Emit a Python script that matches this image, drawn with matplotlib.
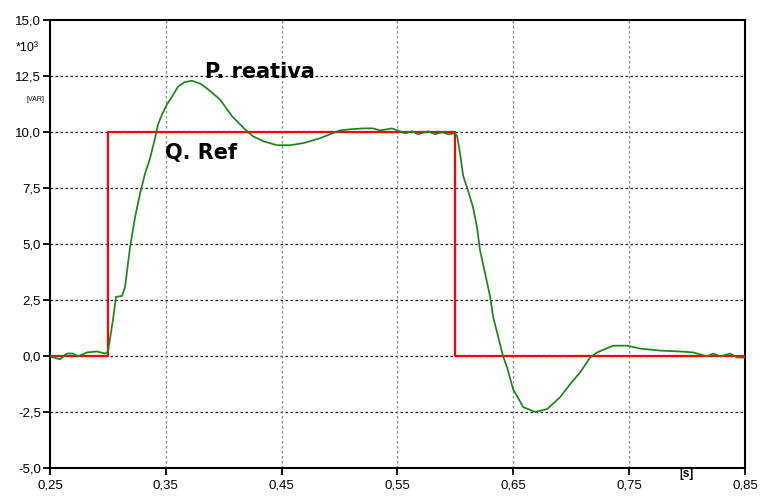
import matplotlib
matplotlib.use("Agg")
import matplotlib.pyplot as plt
from matplotlib.ticker import FuncFormatter

# Reactive power reference (step) [kVAR]
ref_t = [0.25, 0.30, 0.30, 0.60, 0.60, 0.85]
ref_q = [0.0, 0.0, 10.0, 10.0, 0.0, 0.0]

# Measured reactive power [kVAR]
p_t = [0.2500, 0.2586, 0.2647, 0.2699, 0.2742, 0.2820, 0.2906, 0.2975, 0.3001,
       0.3044, 0.3070, 0.3122, 0.3148, 0.3191, 0.3234, 0.3277, 0.3320, 0.3364,
       0.3407, 0.3433, 0.3467, 0.3510, 0.3554, 0.3605, 0.3660, 0.3726, 0.3800,
       0.3856, 0.3968, 0.4072, 0.4201, 0.4253, 0.4339, 0.4460,
       0.4573, 0.4685, 0.4832, 0.4918, 0.5004, 0.5091, 0.5203, 0.5289, 0.5350,
       0.5453, 0.5522, 0.5566, 0.5626, 0.5678, 0.5764, 0.5825, 0.5885, 0.5937,
       0.5997, 0.6015, 0.6041, 0.6067, 0.6110, 0.6153, 0.6187, 0.6213, 0.6256,
       0.6300, 0.6326, 0.6369, 0.6412, 0.6446, 0.6498, 0.6585, 0.6688, 0.6792,
       0.6904, 0.6990, 0.7077, 0.7163, 0.7224, 0.7362, 0.7483, 0.7595, 0.7768,
       0.7940, 0.8053, 0.8174, 0.8225, 0.8286, 0.8372, 0.8433, 0.8500]
p_q = [-0.02, -0.15, 0.11, 0.11, -0.02, 0.16, 0.20, 0.11, 0.20,
       1.62, 2.64, 2.68, 3.08, 4.85, 6.18, 7.24, 8.13, 8.83,
       9.72, 10.34, 10.78, 11.23, 11.58, 12.02, 12.22, 12.29, 12.15,
       11.94, 11.45, 10.70, 10.03, 9.81, 9.59, 9.41,
       9.41, 9.50, 9.72, 9.90, 10.07, 10.12, 10.16, 10.16, 10.07,
       10.16, 10.03, 9.94, 10.03, 9.90, 10.03, 9.90, 9.99, 9.90,
       9.94, 9.81, 9.01, 8.04, 7.37, 6.62, 5.73, 4.71, 3.69,
       2.64, 1.75, 0.86, -0.02, -0.51, -1.48, -2.28, -2.50, -2.37,
       -1.84, -1.26, -0.73, -0.07, 0.16, 0.46, 0.46, 0.33, 0.24,
       0.20, 0.16, -0.02, 0.11, -0.02, 0.11, -0.07, -0.07]

x_ticks = [0.25, 0.35, 0.45, 0.55, 0.65, 0.75, 0.85]
y_ticks = [-5.0, -2.5, 0.0, 2.5, 5.0, 7.5, 10.0, 12.5, 15.0]

plt.rcParams['font.family'] = ['Liberation Sans', 'DejaVu Sans']

fig = plt.figure(figsize=(7.63, 4.97), dpi=100)
ax = fig.add_axes([0.0655, 0.0584, 0.9109, 0.9014])

ax.set_xlim(0.25, 0.85)
ax.set_ylim(-5.0, 15.0)
ax.set_xticks(x_ticks)
ax.set_yticks(y_ticks)
ax.xaxis.set_major_formatter(FuncFormatter(lambda v, pos: f"{v:.2f}".replace('.', ',')))
ax.yaxis.set_major_formatter(FuncFormatter(lambda v, pos: f"{v:.1f}".replace('.', ',')))
ax.tick_params(direction='out', length=5, width=1.3, color='black', labelsize=9.5)
ax.tick_params(axis='x', pad=3.5)
ax.tick_params(axis='y', pad=1.5)

# grid: black dotted horizontals, grey dotted verticals (inner ticks only)
for yv in y_ticks[1:-1]:
    ax.axhline(yv, color='#222222', lw=0.9, ls=(0, (2, 2)), zorder=1)
for xv in x_ticks[1:-1]:
    ax.axvline(xv, color='#888888', lw=0.9, ls=(0, (2, 2)), zorder=1)

for s in ax.spines.values():
    s.set_linewidth(1.5)
    s.set_color('black')

ax.plot(ref_t, ref_q, color='#ff0000', lw=1.6, zorder=3)
ax.plot(p_t, p_q, color='#1a861a', lw=1.25, zorder=4)

ax.text(0.3838, 12.42, "P. reativa", family='DejaVu Sans', fontweight='bold',
        fontsize=15, ha='left', va='baseline', zorder=5)
ax.text(0.3493, 8.79, "Q. Ref", family='DejaVu Sans', fontweight='bold',
        fontsize=15, ha='left', va='baseline', zorder=5)

fig.text(0.021, 0.903, "*10³", fontsize=9, ha='left', va='center')
fig.text(0.035, 0.799, "[VAR]", fontsize=5, ha='left', va='center')
fig.text(0.900, 0.046, "[s]", fontsize=8.5, fontweight='bold', ha='center', va='center')

fig.savefig("out.png", dpi=100)
